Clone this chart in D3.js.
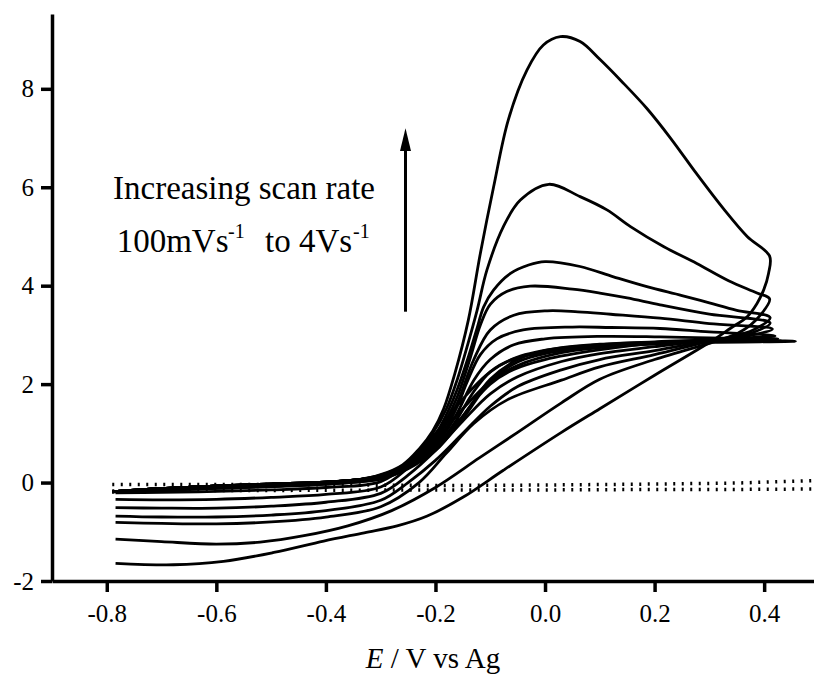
<!DOCTYPE html>
<html><head><meta charset="utf-8">
<script src="https://cdn.jsdelivr.net/npm/d3@7"></script>
<style>body{margin:0;background:#fff} svg{display:block}</style>
</head><body><svg id="c" width="814" height="677"></svg>
<script>
// ---- data (E in V, I in arbitrary current units) ----
const xTicks = [-0.8,-0.6,-0.4,-0.2,0.0,0.2,0.4];
const yTicks = [-2,0,2,4,6,8];
const xLabel = ["E"," / V vs Ag"];
const noteLine1 = "Increasing scan rate";
const noteLine2 = ["100mVs","-1","to 4Vs","-1"];

const baseFwd = [[-0.79,-0.19],[-0.7,-0.12],[-0.6,-0.07],[-0.5,-0.03],[-0.4,0.01],[-0.34,0.06]];

const c1Fwd = [[-0.3,0.16],[-0.26,0.36],[-0.23,0.68],[-0.205,1.05],[-0.185,1.5],[-0.165,2.2],[-0.14,3.3],[-0.118,4.66],[-0.094,6.0],[-0.067,7.37],[-0.033,8.38],[-0.003,8.89],[0.028,9.06],[0.064,8.96],[0.1,8.6],[0.14,8.15],[0.186,7.6],[0.229,7.0],[0.277,6.27],[0.326,5.56],[0.369,5.0],[0.41,4.6]];
const c1Rev = [[0.408,4.25],[0.399,3.91],[0.387,3.64],[0.369,3.37],[0.338,3.13],[0.302,2.86],[0.2,2.18],[0.1,1.5],[0.03,1.02],[-0.076,0.25],[-0.15,-0.3],[-0.215,-0.68],[-0.27,-0.88],[-0.33,-1.02],[-0.404,-1.19],[-0.495,-1.42],[-0.587,-1.6],[-0.678,-1.67],[-0.784,-1.64]];

const c2Fwd = [[-0.3,0.15],[-0.26,0.34],[-0.23,0.64],[-0.205,1.0],[-0.18,1.5],[-0.16,2.1],[-0.14,2.85],[-0.124,3.5],[-0.106,4.32],[-0.076,5.2],[-0.045,5.74],[0.007,6.06],[0.064,5.81],[0.113,5.54],[0.156,5.2],[0.217,4.79],[0.277,4.45],[0.335,4.1],[0.387,3.85],[0.41,3.73]];
const c2Rev = [[0.393,3.4],[0.375,3.2],[0.351,3.03],[0.32,2.9],[0.2,2.5],[0.1,2.1],[0.03,1.62],[-0.05,1.02],[-0.12,0.5],[-0.2,-0.1],[-0.28,-0.57],[-0.36,-0.88],[-0.44,-1.08],[-0.52,-1.21],[-0.6,-1.25],[-0.7,-1.2],[-0.784,-1.15]];

const c3Fwd = [[-0.3,0.14],[-0.26,0.32],[-0.23,0.6],[-0.2,0.98],[-0.18,1.38],[-0.16,1.9],[-0.14,2.55],[-0.125,3.1],[-0.112,3.57],[-0.094,3.91],[-0.063,4.25],[-0.03,4.42],[0.0,4.49],[0.064,4.39],[0.125,4.18],[0.186,3.98],[0.25,3.8],[0.3,3.65],[0.35,3.5],[0.411,3.35]];
const c3Rev = [[0.38,3.1],[0.34,2.96],[0.3,2.87],[0.2,2.6],[0.1,2.35],[0.03,2.08],[-0.069,1.68],[-0.13,1.2],[-0.18,0.6],[-0.23,0.0],[-0.3,-0.49],[-0.4,-0.7],[-0.5,-0.8],[-0.6,-0.84],[-0.7,-0.83],[-0.784,-0.81]];

const c4Fwd = [[-0.3,0.13],[-0.26,0.3],[-0.23,0.56],[-0.2,0.92],[-0.18,1.28],[-0.16,1.75],[-0.136,2.55],[-0.118,3.2],[-0.1,3.62],[-0.07,3.88],[-0.027,3.99],[0.05,3.93],[0.1,3.85],[0.15,3.75],[0.21,3.61],[0.3,3.42],[0.411,3.24]];
const c4Rev = [[0.38,3.05],[0.34,2.94],[0.3,2.88],[0.2,2.68],[0.1,2.5],[0.03,2.29],[-0.05,1.95],[-0.1,1.55],[-0.15,1.0],[-0.2,0.45],[-0.25,0.0],[-0.3,-0.36],[-0.4,-0.57],[-0.5,-0.66],[-0.6,-0.7],[-0.7,-0.7],[-0.784,-0.68]];

const c5Fwd = [[-0.3,0.12],[-0.26,0.28],[-0.23,0.52],[-0.2,0.86],[-0.18,1.2],[-0.16,1.62],[-0.13,2.5],[-0.1,3.1],[-0.057,3.4],[0.004,3.49],[0.06,3.47],[0.12,3.42],[0.21,3.34],[0.3,3.23],[0.415,3.12]];
const c5Rev = [[0.38,3.0],[0.34,2.93],[0.3,2.89],[0.2,2.76],[0.1,2.62],[0.03,2.46],[-0.05,2.15],[-0.1,1.8],[-0.15,1.25],[-0.2,0.65],[-0.25,0.15],[-0.3,-0.22],[-0.4,-0.4],[-0.5,-0.48],[-0.6,-0.52],[-0.7,-0.52],[-0.784,-0.51]];

const c6Fwd = [[-0.3,0.12],[-0.26,0.27],[-0.23,0.5],[-0.2,0.82],[-0.18,1.12],[-0.16,1.55],[-0.142,2.05],[-0.118,2.6],[-0.088,2.92],[-0.04,3.1],[0.05,3.16],[0.12,3.15],[0.21,3.13],[0.3,3.06],[0.42,2.98]];
const c6Rev = [[0.35,2.93],[0.3,2.9],[0.2,2.82],[0.1,2.74],[0.03,2.64],[-0.05,2.38],[-0.1,2.05],[-0.15,1.5],[-0.2,0.85],[-0.25,0.3],[-0.3,-0.09],[-0.4,-0.24],[-0.5,-0.3],[-0.6,-0.34],[-0.7,-0.35],[-0.784,-0.34]];

const c7Fwd = [[-0.3,0.11],[-0.26,0.26],[-0.23,0.48],[-0.2,0.78],[-0.18,1.05],[-0.16,1.42],[-0.13,2.08],[-0.1,2.5],[-0.057,2.8],[0.0,2.92],[0.1,2.97],[0.21,2.96],[0.3,2.94],[0.425,2.92]];
const c7Rev = [[0.3,2.9],[0.2,2.86],[0.1,2.81],[0.03,2.74],[-0.05,2.55],[-0.1,2.25],[-0.15,1.7],[-0.2,1.0],[-0.25,0.4],[-0.3,0.02],[-0.4,-0.1],[-0.5,-0.15],[-0.6,-0.18],[-0.7,-0.2],[-0.784,-0.21]];

const c8Fwd = [[-0.3,0.11],[-0.26,0.25],[-0.23,0.46],[-0.2,0.74],[-0.18,0.98],[-0.16,1.3],[-0.13,1.85],[-0.1,2.25],[-0.06,2.5],[0.0,2.64],[0.1,2.76],[0.2,2.83],[0.3,2.87],[0.43,2.88]];
const c8Rev = [[0.3,2.87],[0.2,2.85],[0.1,2.8],[0.0,2.68],[-0.05,2.5],[-0.1,2.1],[-0.15,1.35],[-0.2,0.7],[-0.25,0.3],[-0.3,0.08],[-0.4,-0.03],[-0.5,-0.08],[-0.6,-0.12],[-0.7,-0.16],[-0.784,-0.19]];

const c9Fwd = [[-0.3,0.1],[-0.26,0.24],[-0.23,0.44],[-0.2,0.7],[-0.18,0.92],[-0.16,1.2],[-0.133,1.6],[-0.1,2.0],[-0.057,2.3],[0.0,2.5],[0.095,2.69],[0.229,2.86],[0.3,2.89],[0.457,2.87]];
const c9Rev = [[0.3,2.85],[0.2,2.82],[0.1,2.76],[0.0,2.62],[-0.05,2.45],[-0.1,2.05],[-0.15,1.3],[-0.2,0.65],[-0.25,0.28],[-0.3,0.07],[-0.4,-0.03],[-0.5,-0.08],[-0.6,-0.12],[-0.7,-0.16],[-0.784,-0.19]];

const dotUpper = [[-0.79,-0.04],[-0.5,-0.04],[-0.2,-0.06],[0.0,-0.05],[0.2,-0.03],[0.35,-0.01],[0.49,0.04]];
const dotLower = [[-0.79,-0.17],[-0.5,-0.16],[-0.2,-0.15],[0.0,-0.15],[0.2,-0.14],[0.35,-0.14],[0.49,-0.13]];

const curves = [
  [c1Fwd,c1Rev],[c2Fwd,c2Rev],[c3Fwd,c3Rev],[c4Fwd,c4Rev],[c5Fwd,c5Rev],
  [c6Fwd,c6Rev],[c7Fwd,c7Rev],[c8Fwd,c8Rev],[c9Fwd,c9Rev]
];

// ---- drawing ----
const svg = d3.select("#c");
const FONT = "'Liberation Serif','Times New Roman',serif";
const x = d3.scaleLinear().domain([-0.9,0.491]).range([52,814]);
const y = d3.scaleLinear().domain([-2,9.52]).range([581,14]);

const line = d3.line().x(d=>x(d[0])).y(d=>y(d[1])).curve(d3.curveCatmullRom.alpha(0.5));

// dotted background scans
[dotUpper, dotLower].forEach(d=>{
  svg.append("path").attr("d", d3.line().x(p=>x(p[0])).y(p=>y(p[1])).curve(d3.curveLinear)(d))
    .attr("fill","none").attr("stroke","#000").attr("stroke-width",3.5)
    .attr("stroke-dasharray","2,6.5");
});

curves.forEach(([f,r])=>{
  const pts = baseFwd.concat(f, r);
  svg.append("path").attr("d", line(pts))
    .attr("fill","none").attr("stroke","#000").attr("stroke-width",2.8)
    .attr("stroke-linejoin","round");
});

// axes
const gx = svg.append("g").attr("transform","translate(0,581)")
  .call(d3.axisBottom(x).tickValues(xTicks).tickSize(11).tickSizeOuter(0).tickPadding(12)
        .tickFormat(d=>d.toFixed(1)));
const gy = svg.append("g").attr("transform","translate(52,0)")
  .call(d3.axisLeft(y).tickValues(yTicks).tickSize(11).tickSizeOuter(0).tickPadding(7)
        .tickFormat(d=>String(d)));
[gx,gy].forEach(g=>{
  g.attr("font-family",FONT);
  g.selectAll("path.domain").attr("stroke","#000").attr("stroke-width",3.5);
  g.selectAll(".tick line").attr("stroke","#000").attr("stroke-width",3.5);
  g.selectAll(".tick text").attr("fill","#000").attr("font-family",FONT).attr("font-size",25);
});

// axis title
const t = svg.append("text").attr("x",433).attr("y",668).attr("text-anchor","middle")
  .attr("font-family",FONT).attr("font-size",29).attr("fill","#000");
t.append("tspan").attr("font-style","italic").text(xLabel[0]);
t.append("tspan").text(xLabel[1]);

// annotation
svg.append("text").attr("x",113).attr("y",199).attr("font-family",FONT).attr("font-size",33)
  .attr("fill","#000").text(noteLine1);
const n2 = svg.append("text").attr("y",251.7).attr("font-family",FONT).attr("font-size",33).attr("fill","#000");
n2.append("tspan").attr("x",116.7).text(noteLine2[0]);
n2.append("tspan").attr("x",228).attr("dy",-14).attr("font-size",20).text(noteLine2[1]);
n2.append("tspan").attr("x",265).attr("dy",14).text(noteLine2[2]);
n2.append("tspan").attr("x",353).attr("dy",-14).attr("font-size",20).text(noteLine2[3]);

// arrow
svg.append("line").attr("x1",405.5).attr("x2",405.5).attr("y1",311.7).attr("y2",148)
  .attr("stroke","#000").attr("stroke-width",3);
svg.append("path").attr("d","M405.5,128.3 L411,151 L400,151 Z").attr("fill","#000");
</script></body></html>
